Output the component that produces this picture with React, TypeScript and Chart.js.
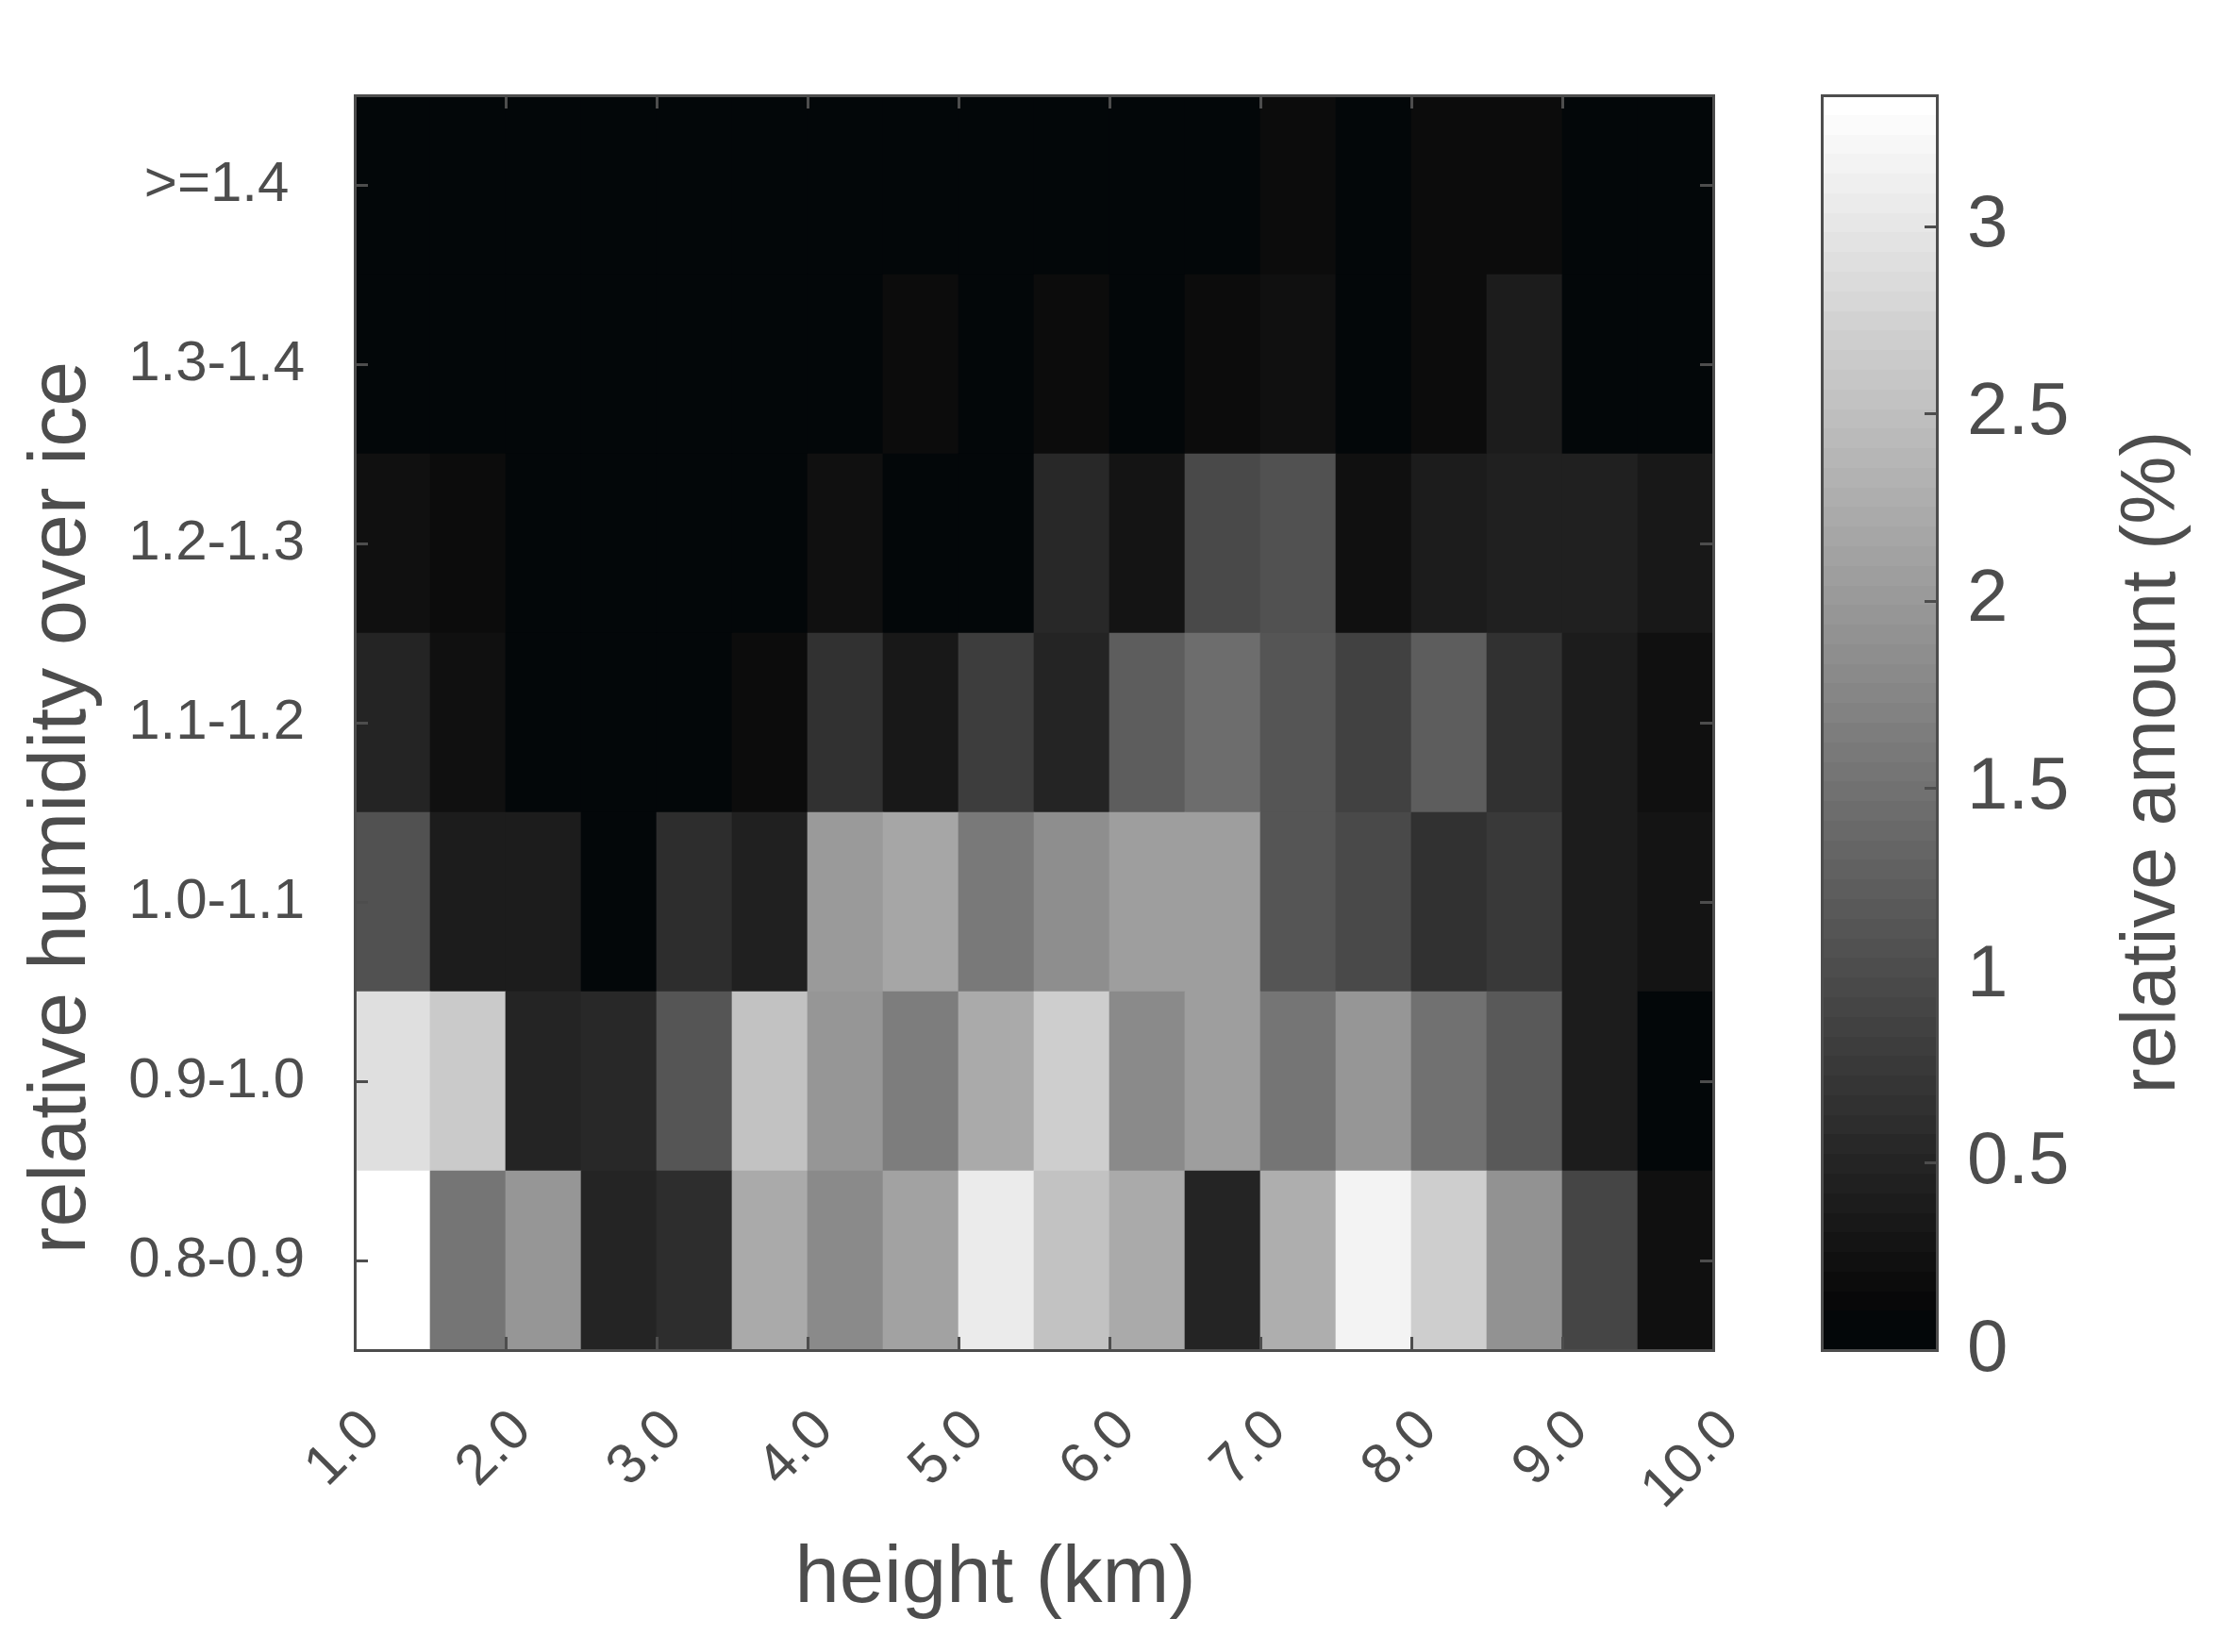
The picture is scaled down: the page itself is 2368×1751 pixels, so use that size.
import React, { useEffect, useRef } from 'react';
import { Chart, registerables } from 'chart.js';

Chart.register(...registerables);

// ---------- data ----------
const heightBinStarts = [1.0, 1.5, 2.0, 2.5, 3.0, 3.5, 4.0, 4.5, 5.0, 5.5, 6.0, 6.5, 7.0, 7.5, 8.0, 8.5, 9.0, 9.5];
const binWidth = 0.5;
const humidityLabels = ['0.8-0.9', '0.9-1.0', '1.0-1.1', '1.1-1.2', '1.2-1.3', '1.3-1.4', '>=1.4 '];
const xTickValues = [1, 2, 3, 4, 5, 6, 7, 8, 9, 10];
const xTickLabels = ['1.0', '2.0', '3.0', '4.0', '5.0', '6.0', '7.0', '8.0', '9.0', '10.0'];
const yTickValues = [0.5, 1.5, 2.5, 3.5, 4.5, 5.5, 6.5];
const cbTickValues = [0, 0.5, 1, 1.5, 2, 2.5, 3];
const cbTickLabels = ['0', '0.5', '1', '1.5', '2', '2.5', '3'];
const cbMin = 0;
const cbMax = 3.35;

// relative amount (%) per humidity row, by height bin
const rh08to09 = [3.35, 1.54, 1.98, 0.46, 0.56, 2.23, 1.81, 2.13, 3.10, 2.57, 2.23, 0.50, 2.29, 3.21, 2.72, 1.94, 0.93, 0.22];
const rh09to10 = [2.93, 2.64, 0.46, 0.51, 1.12, 2.57, 1.98, 1.67, 2.23, 2.73, 1.81, 2.10, 1.54, 1.98, 1.48, 1.17, 0.35, 0.0];
const rh10to11 = [1.09, 0.37, 0.37, 0.0, 0.58, 0.42, 2.02, 2.18, 1.62, 1.85, 2.10, 2.10, 1.10, 0.97, 0.63, 0.72, 0.35, 0.28];
const rh11to12 = [0.46, 0.22, 0.0, 0.0, 0.0, 0.17, 0.63, 0.30, 0.79, 0.50, 1.23, 1.42, 1.10, 0.83, 1.22, 0.66, 0.35, 0.22];
const rh12to13 = [0.22, 0.17, 0.0, 0.0, 0.0, 0.0, 0.22, 0.0, 0.0, 0.51, 0.25, 0.97, 1.06, 0.21, 0.39, 0.45, 0.45, 0.32];
const rh13to14 = [0.0, 0.0, 0.0, 0.0, 0.0, 0.0, 0.0, 0.14, 0.0, 0.16, 0.0, 0.16, 0.22, 0.0, 0.16, 0.39, 0.0, 0.0];
const rh14up = [0.0, 0.0, 0.0, 0.0, 0.0, 0.0, 0.0, 0.0, 0.0, 0.0, 0.0, 0.0, 0.14, 0.0, 0.16, 0.16, 0.0, 0.0];

const rows = [rh08to09, rh09to10, rh10to11, rh11to12, rh12to13, rh13to14, rh14up];

// ---------- style ----------
const W = 2368;
const H = 1751;
const FONT = '"Liberation Sans", Arial, Helvetica, sans-serif';
const INK = '#4d4d4d';
const LEVELS = 64;

function grayFor(v: number): string {
  const t = Math.max(0, Math.min(1, (v - cbMin) / (cbMax - cbMin)));
  const lvl = Math.round(t * (LEVELS - 1));
  const c = Math.round((lvl / (LEVELS - 1)) * 255);
  return `rgb(${Math.max(3, c)},${Math.max(7, c)},${Math.max(9, c)})`;
}

function noVerticalPadding(s: any) {
  s.paddingTop = 0;
  s.paddingBottom = 0;
}

const decorPlugin = {
  id: 'decor',
  afterDatasetsDraw(chart: any) {
    const { ctx, chartArea: a, scales } = chart;
    const xs = scales.x;
    const ys = scales.y;
    const tl = 14;
    ctx.save();
    ctx.strokeStyle = INK;
    ctx.lineWidth = 3;
    ctx.beginPath();
    xs.ticks.forEach((t: any) => {
      const px = Math.round(xs.getPixelForValue(t.value)) + 0.5;
      ctx.moveTo(px, a.bottom);
      ctx.lineTo(px, a.bottom - tl);
      ctx.moveTo(px, a.top);
      ctx.lineTo(px, a.top + tl);
    });
    ys.ticks.forEach((t: any) => {
      const py = Math.round(ys.getPixelForValue(t.value)) + 0.5;
      ctx.moveTo(a.left, py);
      ctx.lineTo(a.left + tl, py);
      ctx.moveTo(a.right, py);
      ctx.lineTo(a.right - tl, py);
    });
    ctx.stroke();
    ctx.strokeRect(a.left + 0.5, a.top + 0.5, a.right - a.left, a.bottom - a.top);
    ctx.restore();
  },
  afterDraw(chart: any) {
    const { ctx, scales } = chart;
    const cb = scales.cb;
    const left = 1931;
    const right = 2053;
    ctx.save();
    // colour bar bands
    for (let k = 0; k < LEVELS; k++) {
      const v0 = cbMin + (k / LEVELS) * (cbMax - cbMin);
      const v1 = cbMin + ((k + 1) / LEVELS) * (cbMax - cbMin);
      const y0 = Math.round(cb.getPixelForValue(v0));
      const y1 = Math.round(cb.getPixelForValue(v1));
      ctx.fillStyle = grayFor((v0 + v1) / 2);
      ctx.fillRect(left, y1, right - left, y0 - y1);
    }
    const top = cb.getPixelForValue(cbMax);
    const bottom = cb.getPixelForValue(cbMin);
    ctx.strokeStyle = INK;
    ctx.lineWidth = 3;
    ctx.beginPath();
    cb.ticks.forEach((t: any) => {
      const py = Math.round(cb.getPixelForValue(t.value)) + 0.5;
      ctx.moveTo(right, py);
      ctx.lineTo(right - 13, py);
    });
    ctx.stroke();
    ctx.strokeRect(left + 0.5, top + 0.5, right - left, bottom - top);

    // titles
    ctx.fillStyle = INK;
    ctx.textAlign = 'center';
    ctx.textBaseline = 'alphabetic';

    ctx.font = `86px ${FONT}`;
    ctx.save();
    ctx.translate(90, 856);
    ctx.rotate(-Math.PI / 2);
    ctx.fillText('relative humidity over ice', 0, 0);
    ctx.restore();

    ctx.font = `85px ${FONT}`;
    ctx.fillText('height (km)', 1055, 1698);

    ctx.font = `81px ${FONT}`;
    ctx.save();
    ctx.translate(2305, 808);
    ctx.rotate(-Math.PI / 2);
    ctx.fillText('relative amount (%)', 0, 0);
    ctx.restore();

    ctx.restore();
  },
};

export default function App() {
  const ref = useRef<HTMLCanvasElement | null>(null);

  useEffect(() => {
    if (!ref.current) return;
    const datasets = rows.map((vals, r) => ({
      label: humidityLabels[r],
      data: heightBinStarts.map((x0) => ({ x: x0 + binWidth / 2, y: 1 })),
      backgroundColor: vals.map((v) => grayFor(v)),
      borderWidth: 0,
      barPercentage: 1,
      categoryPercentage: 1,
    }));

    const chart = new Chart(ref.current, {
      type: 'bar',
      data: { datasets },
      options: {
        animation: false,
        responsive: false,
        events: [],
        layout: { padding: { top: 101, left: 0, right: 0, bottom: 0 } },
        plugins: { legend: { display: false }, tooltip: { enabled: false } },
        scales: {
          x: {
            type: 'linear',
            stacked: true,
            offset: false,
            min: 1,
            max: 10,
            grid: { display: false, drawTicks: false, offset: false },
            border: { display: false },
            afterBuildTicks: (s: any) => {
              s.ticks = xTickValues.map((v) => ({ value: v }));
            },
            afterFit: (s: any) => {
              s.height = H - 1431;
              s.paddingLeft = 0;
              s.paddingRight = 0;
            },
            ticks: {
              autoSkip: false,
              minRotation: 45,
              maxRotation: 45,
              padding: 50,
              labelOffset: 18,
              color: INK,
              font: { family: FONT, size: 60 },
              callback: (_v: any, i: number) => xTickLabels[i],
            },
          },
          y: {
            type: 'linear',
            stacked: true,
            min: 0,
            max: 7,
            grid: { display: false, drawTicks: false },
            border: { display: false },
            afterBuildTicks: (s: any) => {
              s.ticks = yTickValues.map((v) => ({ value: v }));
            },
            afterFit: (s: any) => {
              s.width = 376;
              noVerticalPadding(s);
            },
            ticks: {
              autoSkip: false,
              padding: 53,
              color: INK,
              font: { family: FONT, size: 60 },
              callback: (_v: any, i: number) => humidityLabels[i],
            },
          },
          cb: {
            type: 'linear',
            position: 'right',
            min: cbMin,
            max: cbMax,
            grid: { display: false, drawTicks: false },
            border: { display: false },
            afterBuildTicks: (s: any) => {
              s.ticks = cbTickValues.map((v) => ({ value: v }));
            },
            afterFit: (s: any) => {
              s.width = W - 1816;
              noVerticalPadding(s);
            },
            ticks: {
              autoSkip: false,
              padding: 269,
              color: INK,
              font: { family: FONT, size: 78 },
              callback: (_v: any, i: number) => cbTickLabels[i],
            },
          },
        },
      } as any,
      plugins: [decorPlugin],
    });
    return () => chart.destroy();
  }, []);

  return (
    <div style={{ position: 'absolute', left: 0, top: 0, width: W, height: H, background: '#fff' }}>
      <canvas ref={ref} width={W} height={H} style={{ width: W, height: H, display: 'block' }} />
    </div>
  );
}
